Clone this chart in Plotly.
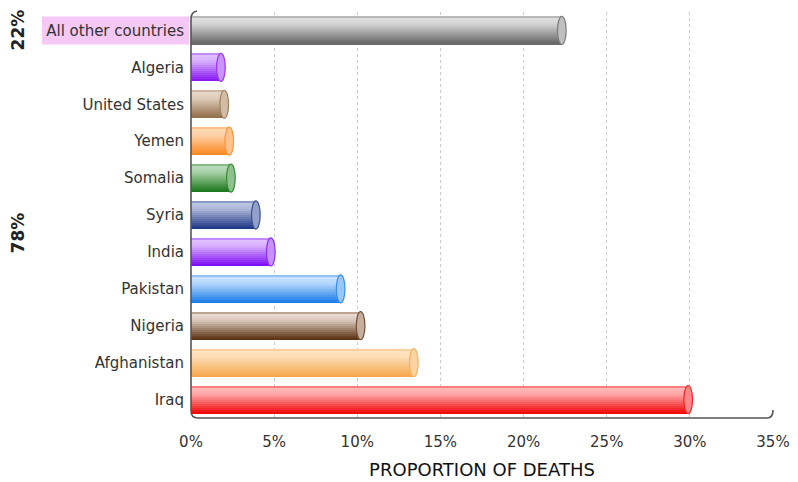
import plotly.graph_objects as go

categories = ["Iraq", "Afghanistan", "Nigeria", "Pakistan", "India", "Syria",
              "Somalia", "Yemen", "United States", "Algeria", "All other countries"]
values = [29.9, 13.4, 10.2, 9.0, 4.8, 3.9, 2.4, 2.3, 2.0, 1.8, 22.3]
x_ticks = [0, 5, 10, 15, 20, 25, 30, 35]
group_labels = ["22%", "78%"]

dark_colors = ["#f00a0a", "#f5a850", "#5e3415", "#1f7fe8", "#8010f5", "#203a88",
               "#1e7a1e", "#fb8a25", "#94704c", "#8a1af0", "#6a6a6a"]
light_colors = ["#ffc0c0", "#ffe6c6", "#efe2da", "#cfe6ff", "#e6c8ff", "#c4cce6",
                "#c0e0c0", "#ffdcbc", "#ecdccc", "#e4c8ff", "#e4e4e4"]

FONT = "DejaVu Sans, Verdana, sans-serif"

# page body has an 8px margin: figure is placed at (8, 8) in the window
OFF = 8
W, H = 798 - OFF, 482 - OFF
L, R, T, B = 191 - OFF, 798 - 773, 12 - OFF, 482 - 418


def hex2rgb(h):
    h = h.lstrip("#")
    return [int(h[i:i + 2], 16) for i in (0, 2, 4)]


def mix(a, b, t):
    ra, rb = hex2rgb(a), hex2rgb(b)
    return "rgb(%d,%d,%d)" % tuple(round(ra[i] + (rb[i] - ra[i]) * t) for i in range(3))


fig = go.Figure()
half = 0.38
n_strips = 14
w = 2 * half / n_strips
for k in range(n_strips):
    t = (k + 0.5) / n_strips
    if t < 0.1:
        s = 0.35
    elif t < 0.3:
        s = 0.05 + (t - 0.1) * 0.5
    else:
        s = 0.15 + (t - 0.3) * 1.3
    s = min(s, 1.0)
    cols = [mix(light_colors[i], dark_colors[i], s) for i in range(len(categories))]
    fig.add_trace(go.Bar(
        y=categories, x=values, orientation="h",
        offset=-half, width=2 * half - k * w,
        marker=dict(color=cols, line=dict(width=0)),
        hoverinfo="x+y", showlegend=False,
    ))

shapes = []
for i, v in enumerate(values):
    shapes.append(dict(type="circle", xref="x", yref="y",
                       x0=v - 0.26, x1=v + 0.26, y0=i - half, y1=i + half,
                       fillcolor=mix(light_colors[i], dark_colors[i], 0.3),
                       line=dict(color=mix(light_colors[i], dark_colors[i], 0.85), width=1.2),
                       layer="above"))


def px(x):
    return (x - 191) / 582.0


def py(y):
    return (418 - y) / 406.0


shapes.append(dict(type="rect", xref="paper", yref="y",
                   x0=px(42), x1=px(189), y0=10 - 0.38, y1=10 + 0.38,
                   fillcolor="#f5c8f5", line=dict(width=0), layer="below"))

path = ("M %f,%f Q %f,%f %f,%f L %f,%f Q %f,%f %f,%f L %f,%f Q %f,%f %f,%f" % (
    px(197), py(11), px(191), py(12), px(191), py(19),
    px(191), py(411), px(191), py(418), px(198), py(418),
    px(767), py(418), px(773), py(418), px(773), py(410)))
shapes.append(dict(type="path", xref="paper", yref="paper", path=path,
                   line=dict(color="#555555", width=1.6), layer="above"))

annotations = [
    dict(text="<b>%s</b>" % group_labels[0], xref="paper", yref="y", x=px(18), y=10,
         xanchor="center", yanchor="middle",
         textangle=-90, showarrow=False, font=dict(size=17, color="#222222", family=FONT)),
    dict(text="<b>%s</b>" % group_labels[1], xref="paper", yref="y", x=px(18), y=4.5,
         xanchor="center", yanchor="middle",
         textangle=-90, showarrow=False, font=dict(size=17, color="#222222", family=FONT)),
]

fig.update_layout(
    width=W, height=H,
    margin=dict(l=L, r=R, t=T, b=B, autoexpand=False),
    paper_bgcolor="white", plot_bgcolor="white",
    barmode="overlay", bargap=0,
    shapes=shapes, annotations=annotations,
    font=dict(family=FONT, color="#333333", size=15),
    xaxis=dict(range=[0, 35], tickvals=x_ticks,
               ticktext=["%d%%" % v for v in x_ticks],
               showgrid=True, gridcolor="#cccccc", griddash="dot", gridwidth=1,
               zeroline=False, showline=False, ticks="", automargin=False,
               ticklabelstandoff=13,
               tickfont=dict(size=15, color="#333333"),
               title=dict(text="PROPORTION OF DEATHS", standoff=13,
                          font=dict(size=18, color="#111111"))),
    yaxis=dict(type="category", categoryorder="array", categoryarray=categories,
               range=[-0.5, 10.5], showgrid=False, zeroline=False, showline=False,
               ticks="", ticklabelstandoff=6, automargin=False,
               tickfont=dict(size=15, color="#333333")),
)

fig.write_html("out.html")
